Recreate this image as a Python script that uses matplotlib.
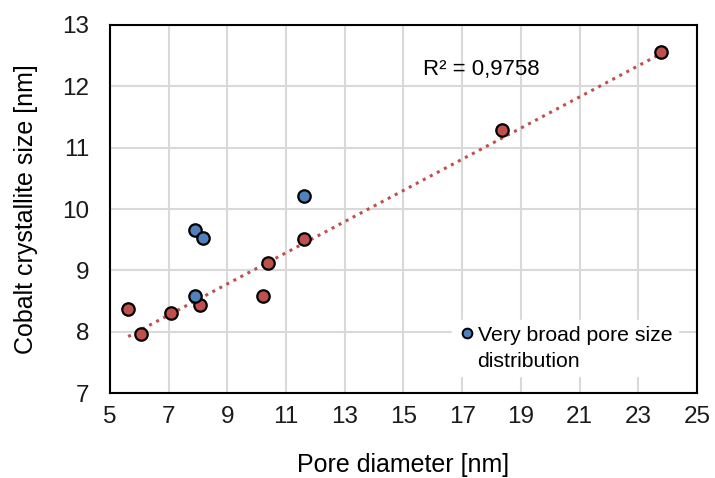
import numpy as np
import matplotlib.pyplot as plt
from matplotlib.lines import Line2D

plt.rcParams['font.family'] = ['Liberation Sans', 'DejaVu Sans']

# red series (used for the trendline)
pore_red = [5.62, 6.06, 7.08, 8.07, 10.21, 10.38, 11.61, 18.35, 23.77]
size_red = [8.37, 7.97, 8.30, 8.43, 8.58, 9.12, 9.51, 11.29, 12.56]

# blue series: very broad pore size distribution
pore_blue = [7.90, 8.18, 7.90, 11.60]
size_blue = [9.65, 9.52, 8.58, 10.22]

r2_text = "R² = 0,9758"
legend_lines = ["Very broad pore size", "distribution"]

red = "#C0504D"
blue = "#4F81BD"

fig = plt.figure(figsize=(7.15, 4.78), dpi=100)
ax = fig.add_axes([0.1538, 0.1778, 0.8210, 0.7699])

ax.set_xlim(5, 25)
ax.set_ylim(7, 13)
ax.set_xticks(np.arange(5, 26, 2))
ax.set_yticks(np.arange(7, 14, 1))
ax.grid(True, color="#d9d9d9", linewidth=1.5, zorder=0)
ax.set_axisbelow(True)

# trendline from red points
coef = np.polyfit(pore_red, size_red, 1)
xs = np.array([min(pore_red), max(pore_red)])
ax.plot(xs, np.polyval(coef, xs), linestyle=(0, (1, 1.6)), color=red,
        linewidth=2.2, zorder=2)

ax.scatter(pore_red, size_red, s=80, color=red, edgecolor="black",
           linewidth=1.6, zorder=3)
ax.scatter(pore_blue, size_blue, s=80, color=blue, edgecolor="black",
           linewidth=1.6, zorder=3)

ax.text(15.66, 12.27, r2_text, fontsize=16, va="center", ha="left")

# legend: blue marker on first line, second line wraps below
handles = [Line2D([], [], linestyle="none", marker="o", markersize=7,
                  markerfacecolor=blue, markeredgecolor="black", markeredgewidth=1.4),
           Line2D([], [], linestyle="none")]
leg = ax.legend(handles, legend_lines, loc="lower right",
                bbox_to_anchor=(0.985, 0.016), fontsize=15.3,
                frameon=True, handletextpad=0.05, handlelength=0.9,
                borderpad=0.25, labelspacing=0.35)
leg.get_frame().set_edgecolor("white")
leg.get_frame().set_facecolor("white")
leg.get_frame().set_alpha(1)
leg.get_frame().set_boxstyle("square", pad=0)

for sp in ax.spines.values():
    sp.set_linewidth(1.5)
    sp.set_color("black")

ax.tick_params(length=0, labelsize=17.5, colors="#1a1a1a")
ax.tick_params(axis="y", pad=15)
ax.tick_params(axis="x", pad=9)

ax.set_xlabel("Pore diameter [nm]", fontsize=18, labelpad=18.5)
ax.set_ylabel("Cobalt crystallite size [nm]", fontsize=18, labelpad=17)

fig.savefig("out.png", dpi=100)
